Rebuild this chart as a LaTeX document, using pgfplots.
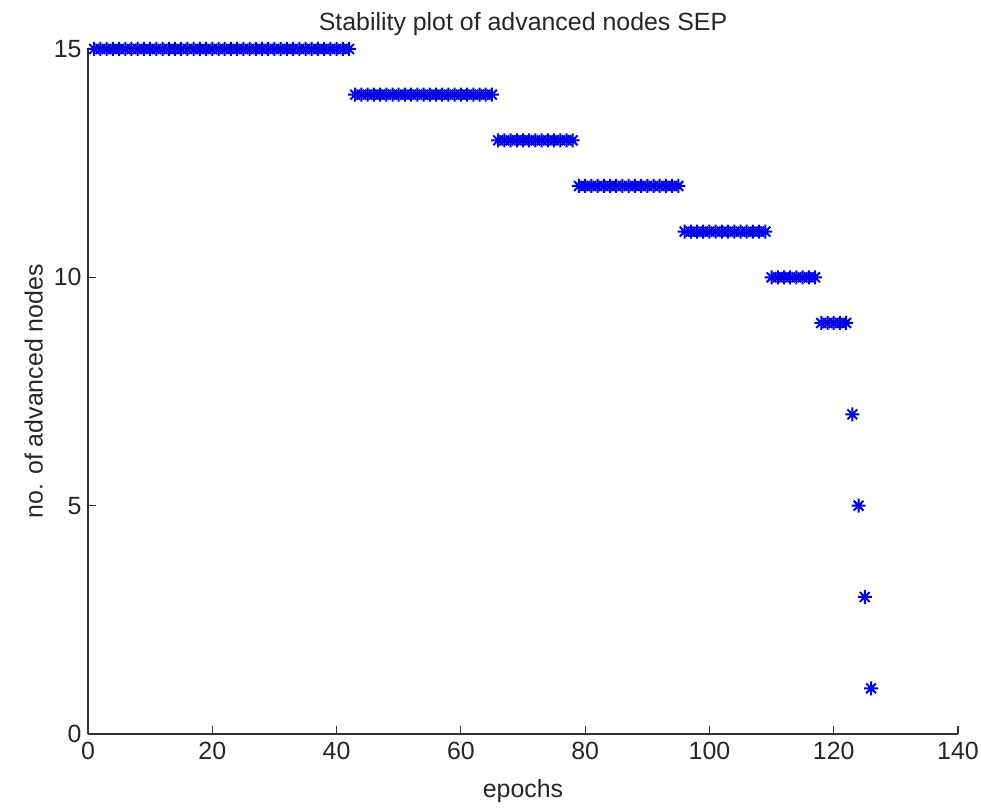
\documentclass[border=0pt]{standalone}
\usepackage{pgfplots}
\pgfplotsset{compat=1.18}
\usepackage{fontspec}
\setmainfont{Liberation Sans}

% eight-spoke star: a plus sign laid over a cross
\pgfdeclareplotmark{pluscross}{%
  \pgfpathmoveto{\pgfqpoint{-\pgfplotmarksize}{0pt}}%
  \pgfpathlineto{\pgfqpoint{\pgfplotmarksize}{0pt}}%
  \pgfpathmoveto{\pgfqpoint{0pt}{-\pgfplotmarksize}}%
  \pgfpathlineto{\pgfqpoint{0pt}{\pgfplotmarksize}}%
  \pgfpathmoveto{\pgfqpoint{-0.7\pgfplotmarksize}{-0.7\pgfplotmarksize}}%
  \pgfpathlineto{\pgfqpoint{0.7\pgfplotmarksize}{0.7\pgfplotmarksize}}%
  \pgfpathmoveto{\pgfqpoint{-0.7\pgfplotmarksize}{0.7\pgfplotmarksize}}%
  \pgfpathlineto{\pgfqpoint{0.7\pgfplotmarksize}{-0.7\pgfplotmarksize}}%
  \pgfusepathqstroke}

% number of advanced nodes still alive at each epoch
\pgfplotstableread{
epoch nodes
1 15
2 15
3 15
4 15
5 15
6 15
7 15
8 15
9 15
10 15
11 15
12 15
13 15
14 15
15 15
16 15
17 15
18 15
19 15
20 15
21 15
22 15
23 15
24 15
25 15
26 15
27 15
28 15
29 15
30 15
31 15
32 15
33 15
34 15
35 15
36 15
37 15
38 15
39 15
40 15
41 15
42 15
43 14
44 14
45 14
46 14
47 14
48 14
49 14
50 14
51 14
52 14
53 14
54 14
55 14
56 14
57 14
58 14
59 14
60 14
61 14
62 14
63 14
64 14
65 14
66 13
67 13
68 13
69 13
70 13
71 13
72 13
73 13
74 13
75 13
76 13
77 13
78 13
79 12
80 12
81 12
82 12
83 12
84 12
85 12
86 12
87 12
88 12
89 12
90 12
91 12
92 12
93 12
94 12
95 12
96 11
97 11
98 11
99 11
100 11
101 11
102 11
103 11
104 11
105 11
106 11
107 11
108 11
109 11
110 10
111 10
112 10
113 10
114 10
115 10
116 10
117 10
118 9
119 9
120 9
121 9
122 9
123 7
124 5
125 3
126 1
}\stabdata

\begin{document}
\begin{tikzpicture}
\begin{axis}[
  scale only axis,
  width=870bp, height=685bp,
  xmin=0, xmax=140, ymin=0, ymax=15,
  axis lines*=left,
  axis line style={line width=1.2bp, black!80},
  xtick={0,20,...,140}, ytick={0,5,10,15},
  tick align=inside,
  major tick length=8bp,
  tick style={line width=1.2bp, black!80},
  /pgf/number format/assume math mode=true,
  tick label style={font=\fontsize{25}{27}\selectfont, text=black!85},
  xticklabel style={yshift=-5bp},
  yticklabel style={xshift=-3bp},
  label style={font=\fontsize{25}{27}\selectfont, text=black!85},
  xlabel style={yshift=-12bp},
  ylabel style={yshift=4bp},
  title style={font=\fontsize{25}{27}\selectfont, text=black!85, yshift=4bp},
  title={Stability plot of advanced nodes SEP},
  xlabel={epochs},
  ylabel={no. of advanced nodes},
  clip=false,
]
\addplot[only marks, mark=pluscross, mark size=7bp, color=blue!90!black,
  mark options={line width=2bp}] table[x=epoch, y=nodes] {\stabdata};
\coordinate (ll) at (rel axis cs:0,0);
\coordinate (ur) at (rel axis cs:1,1);
\end{axis}
\pgfresetboundingbox
\path[use as bounding box] ([shift={(-88bp,-76bp)}]ll) rectangle ([shift={(23bp,49bp)}]ur);
\end{tikzpicture}
\end{document}
